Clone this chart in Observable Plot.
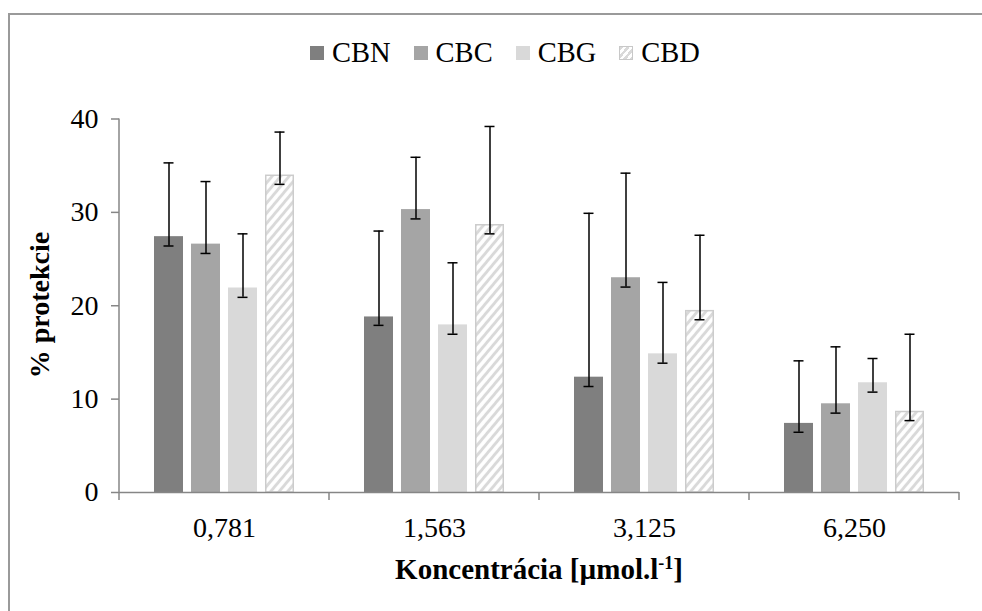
<!DOCTYPE html>
<html>
<head>
<meta charset="utf-8">
<script src="https://cdn.jsdelivr.net/npm/d3@7"></script>
<script src="https://cdn.jsdelivr.net/npm/@observablehq/plot@0.6"></script>
<style>
  html, body { margin: 0; padding: 0; background: #fff; }
  body { width: 982px; height: 611px; overflow: hidden; position: relative;
         font-family: "Liberation Serif", "Times New Roman", serif; color: #000; }
  #chart { position: absolute; left: 0; top: 0; }
  #frame { position: absolute; left: 8px; top: 13px; width: 1000px; height: 700px;
           border: 2px solid #9a9a9a; box-sizing: border-box; pointer-events: none; }
  #legend { position: absolute; left: 310px; top: 39px; font-size: 28.5px; line-height: 1; white-space: nowrap; }
  .item { display: inline-block; margin-right: 23px; }
  .sw { display: inline-block; width: 14px; height: 14px; margin-right: 8px; vertical-align: 2px; box-sizing: border-box; }
  #ytitle { position: absolute; left: 40px; top: 305px; transform: translate(-50%, -50%) rotate(-90deg);
            font-weight: bold; font-size: 28px; line-height: 1; white-space: nowrap; }
  #xtitle { position: absolute; left: 539px; top: 555px; transform: translateX(-50%);
            font-weight: bold; font-size: 29px; line-height: 1; white-space: nowrap; }
  #xtitle sup { font-size: 0.62em; vertical-align: 0.55em; line-height: 0; }
  svg [aria-label^="y-axis"] line, svg [aria-label^="y-axis"] path { stroke: #868686; stroke-width: 1.5; }
</style>
</head>
<body>
<svg width="0" height="0" style="position:absolute">
  <defs>
    <pattern id="hatch" patternUnits="userSpaceOnUse" width="6.5" height="6.5" patternTransform="rotate(40)">
      <rect width="6.5" height="6.5" fill="#ffffff"></rect>
      <line x1="3.25" y1="-1" x2="3.25" y2="7.5" stroke="#d9d9d9" stroke-width="2.9"></line>
    </pattern>
  </defs>
</svg>
<div id="chart"></div>
<div id="legend"></div>
<div id="ytitle">% protekcie</div>
<div id="xtitle">Koncentrácia [µmol.l<sup>-1</sup>]</div>
<div id="frame"></div>
<script>
// ---- data ----
const concentrations = ["0,781", "1,563", "3,125", "6,250"];
const seriesNames = ["CBN", "CBC", "CBG", "CBD"];
const seriesColors = ["#7f7f7f", "#a5a5a5", "#d9d9d9", "#ffffff"];

const valuesCBN = [27.4, 18.8, 12.35, 7.4];
const valuesCBC = [26.6, 30.3, 23.0, 9.5];
const valuesCBG = [21.9, 17.95, 14.85, 11.75];
const valuesCBD = [34.0, 28.7, 19.5, 8.7];

const errPlusCBN = [7.9, 9.2, 17.55, 6.7];
const errPlusCBC = [6.7, 5.6, 11.2, 6.1];
const errPlusCBG = [5.8, 6.65, 7.65, 2.6];
const errPlusCBD = [4.6, 10.5, 8.05, 8.25];

const errMinusCBN = [1.0, 0.9, 1.0, 0.95];
const errMinusCBC = [1.0, 1.0, 1.0, 1.0];
const errMinusCBG = [1.0, 1.0, 1.0, 1.0];
const errMinusCBD = [1.0, 1.0, 1.0, 1.0];

const yTicks = [0, 10, 20, 30, 40];

// ---- build table ----
const valueTable = { CBN: valuesCBN, CBC: valuesCBC, CBG: valuesCBG, CBD: valuesCBD };
const plusTable = { CBN: errPlusCBN, CBC: errPlusCBC, CBG: errPlusCBG, CBD: errPlusCBD };
const minusTable = { CBN: errMinusCBN, CBC: errMinusCBC, CBG: errMinusCBG, CBD: errMinusCBD };
const rows = [];
concentrations.forEach((c, i) => {
  seriesNames.forEach(s => {
    const v = valueTable[s][i];
    rows.push({ conc: c, series: s, value: v, hi: v + plusTable[s][i], lo: v - minusTable[s][i] });
  });
});

const chart = Plot.plot({
  width: 982,
  height: 611,
  marginLeft: 119,
  marginRight: 23,
  marginTop: 118.5,
  marginBottom: 119,
  style: { background: "transparent", fontFamily: "'Liberation Serif', 'Times New Roman', serif", fontSize: "28px", color: "#000", overflow: "visible" },
  fx: { domain: concentrations, padding: 0, label: null, tickSize: 0, tickPadding: 25, axis: "bottom" },
  x: { domain: seriesNames, paddingInner: 8 / 38, paddingOuter: 33 / 38, axis: null },
  y: { domain: [0, 40], ticks: yTicks, tickSize: 8, tickPadding: 13, label: null },
  color: { domain: seriesNames, range: seriesColors },
  marks: [
    Plot.barY(rows.filter(d => d.series !== "CBD"), { fx: "conc", x: "series", y: "value", fill: "series" }),
    Plot.barY(rows.filter(d => d.series === "CBD"), { fx: "conc", x: "series", y: "value", fill: "url(#hatch)", stroke: "#cccccc", strokeWidth: 1.5, insetLeft: 0.75, insetRight: 0.75, insetTop: 0.75 }),
    Plot.ruleY([0], { stroke: "#868686", strokeWidth: 1.5 }),
    Plot.ruleX(rows, { fx: "conc", x: "series", y1: "lo", y2: "hi", stroke: "#000", strokeWidth: 1.5 }),
    Plot.tickY(rows, { fx: "conc", x: "series", y: "hi", stroke: "#000", strokeWidth: 1.5, insetLeft: 9.5, insetRight: 9.5 }),
    Plot.tickY(rows, { fx: "conc", x: "series", y: "lo", stroke: "#000", strokeWidth: 1.5, insetLeft: 9.5, insetRight: 9.5 })
  ]
});
document.getElementById("chart").appendChild(chart);

// ---- axis line and category boundary ticks from the library's scales ----
try {
  const fx = chart.scale("fx");
  const y = chart.scale("y");
  const starts = concentrations.map(c => fx.apply(c));
  const bounds = starts.concat([starts[starts.length - 1] + fx.bandwidth]);
  const y0 = y.apply(0), yTop = y.apply(40);
  const g = d3.select(chart).append("g").attr("stroke", "#868686").attr("stroke-width", 1.5);
  g.append("line").attr("x1", bounds[0]).attr("x2", bounds[0]).attr("y1", yTop).attr("y2", y0);
  bounds.forEach(b => g.append("line").attr("x1", b).attr("x2", b).attr("y1", y0).attr("y2", y0 + 8));
} catch (e) { console.error(e); }

// ---- legend ----
const legend = document.getElementById("legend");
seriesNames.forEach((s, i) => {
  const item = document.createElement("span");
  item.className = "item";
  const sw = document.createElement("span");
  sw.className = "sw";
  if (s === "CBD") {
    sw.style.background = "repeating-linear-gradient(130deg, #d9d9d9 0 2.5px, #ffffff 2.5px 5px)";
    sw.style.border = "1.5px solid #c8c8c8";
  } else {
    sw.style.background = seriesColors[i];
  }
  item.appendChild(sw);
  item.appendChild(document.createTextNode(s));
  legend.appendChild(item);
});
</script>
</body>
</html>
